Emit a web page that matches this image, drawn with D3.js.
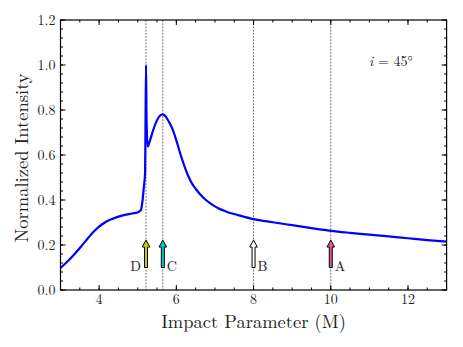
<!DOCTYPE html>
<html><head><meta charset="utf-8">
<script src="https://cdn.jsdelivr.net/npm/d3@7"></script>
<style>body{margin:0;background:#fff}svg{display:block}</style>
</head><body><svg id="c" width="463" height="347"></svg>
<script>
const impactParam = [3.0,3.2,3.4,3.55,3.7,3.85,4.0,4.15,4.3,4.5,4.7,4.85,5.0,5.08,5.12,5.16,5.19,5.2,5.215,5.23,5.26,5.3,5.4,5.5,5.6,5.65,5.72,5.8,5.9,6.0,6.1,6.2,6.3,6.4,6.5,6.7,6.9,7.1,7.3,7.6,8.0,8.5,9.0,9.5,10.0,10.5,11.0,11.5,12.0,12.5,13.0];
const intensity   = [0.098,0.13,0.167,0.197,0.228,0.258,0.282,0.3,0.313,0.326,0.335,0.34,0.345,0.355,0.39,0.46,0.52,0.7,1.0,0.75,0.637,0.655,0.71,0.755,0.778,0.781,0.772,0.75,0.716,0.665,0.607,0.555,0.51,0.475,0.45,0.41,0.383,0.362,0.348,0.333,0.315,0.301,0.288,0.275,0.263,0.254,0.246,0.238,0.23,0.222,0.215];
const markerNames  = ["D","C","B","A"];
const markerPos    = [5.215,5.65,8,10];
const markerColors = ["#cccc00","#00c8c8","#ffffff","#e0559c"];
const arrowFrom = 0.1, arrowTo = 0.222;
const xTicks = [4,6,8,10,12];
const yTicks = [0,0.2,0.4,0.6,0.8,1.0,1.2];
const annotation = "45°";

const FONT = "'Latin Modern Roman','CMU Serif','Liberation Serif',serif";
const svg = d3.select("#c").attr("font-family",FONT);
const L=60.5,R=446.6,T=20,B=290;
const x = d3.scaleLinear().domain([3,13]).range([L,R]);
const y = d3.scaleLinear().domain([0,1.2]).range([B,T]);

const g = svg.append("g");
g.selectAll("line.v").data(markerPos).join("line")
 .attr("x1",d=>x(d)).attr("x2",d=>x(d)).attr("y1",T).attr("y2",B)
 .attr("stroke","#555").attr("stroke-width",0.8).attr("stroke-dasharray","2,1.2");

const pts = impactParam.map((v,i)=>[v,intensity[i]]);
g.append("path").datum(pts)
 .attr("d",d3.line().x(d=>x(d[0])).y(d=>y(d[1])).curve(d3.curveMonotoneX))
 .attr("fill","none").attr("stroke","#0000ff").attr("stroke-width",2.2);

markerPos.forEach((p,i)=>{
  const cx=x(p), yb=y(arrowFrom), yt=y(arrowTo);
  const hw=3.8, sw=1.5, hl=7;
  const pth=`M${cx-sw},${yb}L${cx-sw},${yt+hl}L${cx-hw},${yt+hl}L${cx},${yt}L${cx+hw},${yt+hl}L${cx+sw},${yt+hl}L${cx+sw},${yb}Z`;
  g.append("path").attr("d",pth).attr("fill",markerColors[i]).attr("stroke","#000").attr("stroke-width",1);
  const left = i===0;
  g.append("text").attr("x",left?cx-5:cx+4).attr("y",yb+3)
   .attr("text-anchor",left?"end":"start").attr("font-size",14).attr("fill","#222").text(markerNames[i]);
});

const xMinor = d3.range(3,13.01,0.5);
const yMinor = d3.range(0,1.2001,0.04);
function ticksX(vals,len,yy,dir){g.selectAll(null).data(vals).join("line").attr("x1",d=>x(d)).attr("x2",d=>x(d)).attr("y1",yy).attr("y2",yy+dir*len).attr("stroke","#000").attr("stroke-width",1);}
function ticksY(vals,len,xx,dir){g.selectAll(null).data(vals).join("line").attr("y1",d=>y(d)).attr("y2",d=>y(d)).attr("x1",xx).attr("x2",xx+dir*len).attr("stroke","#000").attr("stroke-width",1);}
ticksX(xMinor,2.5,B,-1);ticksX(xMinor,2.5,T,1);
ticksX(xTicks,5,B,-1);ticksX(xTicks,5,T,1);
ticksY(yMinor,2.5,L,1);ticksY(yMinor,2.5,R,-1);
ticksY(yTicks,5,L,1);ticksY(yTicks,5,R,-1);
g.append("rect").attr("x",L).attr("y",T).attr("width",R-L).attr("height",B-T).attr("fill","none").attr("stroke","#000").attr("stroke-width",1.2);

g.selectAll(null).data(xTicks).join("text").attr("x",d=>x(d)).attr("y",B+14).attr("text-anchor","middle").attr("font-size",14).attr("fill","#222").text(d=>d);
g.selectAll(null).data(yTicks).join("text").attr("x",L-5).attr("y",d=>y(d)+4.5).attr("text-anchor","end").attr("font-size",14).attr("fill","#222").text(d=>d3.format(".1f")(d));

svg.append("text").attr("x",(L+R)/2).attr("y",328).attr("text-anchor","middle").attr("font-size",18.5).attr("fill","#222").text("Impact Parameter (M)");
svg.append("text").attr("transform",`translate(28,${(T+B)/2 + 3}) rotate(-90)`).attr("text-anchor","middle").attr("font-size",18.5).attr("fill","#222").text("Normalized Intensity");

const ann = svg.append("text").attr("x",369).attr("y",66).attr("font-size",14).attr("fill","#222");
ann.append("tspan").attr("font-style","italic").text("i");
ann.append("tspan").text(" = "+annotation);
</script></body></html>
